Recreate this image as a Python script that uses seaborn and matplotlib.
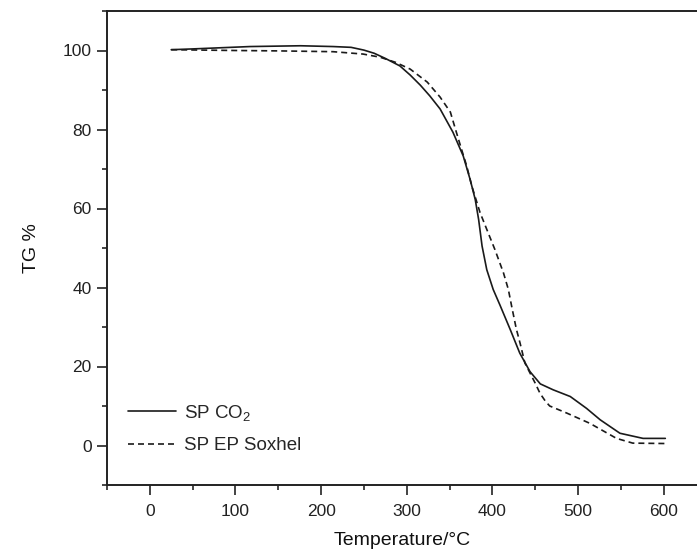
import matplotlib
matplotlib.use('Agg')
import matplotlib.pyplot as plt
from matplotlib.ticker import MultipleLocator
import seaborn as sns
import pandas as pd

sns.set_style('ticks')
plt.rcParams['font.family'] = ['Liberation Sans', 'DejaVu Sans']
plt.rcParams['mathtext.fontset'] = 'custom'
plt.rcParams['mathtext.rm'] = 'Liberation Sans'
plt.rcParams['mathtext.it'] = 'Liberation Sans'

# TG curves
temp_co2 = [25, 50, 117, 176, 214, 235, 250, 262, 275, 292, 304, 316, 327, 339, 354, 366,
            374, 380, 384, 388, 393.5, 401, 409, 421, 432, 444, 456, 471, 491, 510, 526,
            549, 576, 602]
tg_co2 = [100.2, 100.4, 101, 101.2, 101, 100.8, 100.1, 99.3, 98.0, 96.1, 93.8, 91.2, 88.5, 85.2,
          79.3, 73.3, 67.4, 62.3, 57.2, 50.5, 44.5, 39.5, 35.5, 29.3, 23.4, 18.7, 15.6, 14.1,
          12.4, 9.4, 6.5, 3.1, 1.8, 1.8]

temp_sox = [25, 100, 150, 214, 249, 269, 287, 304, 324, 339, 351, 358, 364, 370, 376, 385.6,
            395, 403, 413, 418.7, 422.6, 428, 432.4, 438, 446, 450, 455.7, 462, 467, 487,
            514, 545, 564, 602]
tg_sox = [100.2, 100, 99.9, 99.7, 99.1, 98.3, 97, 95.3, 92, 88.2, 84.4, 79.3, 75, 70.8, 65.7, 59,
          53.9, 49.6, 43.7, 39.5, 35.2, 29.5, 25.9, 20.9, 17.5, 15.8, 13.2, 11.2, 10, 8.2,
          5.6, 1.8, 0.6, 0.5]

co2 = pd.DataFrame({'temp': temp_co2, 'tg': tg_co2})
sox = pd.DataFrame({'temp': temp_sox, 'tg': tg_sox})

fig = plt.figure(figsize=(6.97, 5.55), dpi=100)
ax = fig.add_axes([107 / 697, 70 / 555, 1 - 107 / 697, 474 / 555])

sns.lineplot(x='temp', y='tg', data=co2, color='#1a1a1a', linewidth=1.2,
             label=r'SP CO$_2$', ax=ax)
sns.lineplot(x='temp', y='tg', data=sox, color='#1a1a1a', linewidth=1.2,
             label='SP EP Soxhel', ax=ax)
ax.lines[1].set_dashes((3.6, 2.4))

ax.set_xlim(-50, 639)
ax.set_ylim(-10, 110)
ax.xaxis.set_major_locator(MultipleLocator(100))
ax.xaxis.set_minor_locator(MultipleLocator(50))
ax.yaxis.set_major_locator(MultipleLocator(20))
ax.yaxis.set_minor_locator(MultipleLocator(10))
ax.tick_params(which='major', direction='out', length=7, width=1.2, labelsize=12.5,
               colors='#222222', pad=4)
ax.tick_params(which='minor', direction='out', length=3.5, width=1.2)
ax.tick_params(axis='x', which='major', pad=7)

for side in ['left', 'bottom', 'top']:
    ax.spines[side].set_linewidth(1.4)
    ax.spines[side].set_color('#222222')
ax.spines['right'].set_visible(False)

ax.set_xlabel('Temperature/°C', fontsize=14, color='#111111', labelpad=9)
ax.set_ylabel('TG %', fontsize=14, color='#111111', labelpad=16)

leg = ax.legend(loc='lower left', bbox_to_anchor=(0.035, 0.065), frameon=False,
                fontsize=13.5, handlelength=2.6, handletextpad=0.4,
                labelspacing=0.75, borderpad=0, borderaxespad=0)
leg.get_lines()[1].set_dashes((3.6, 2.4))

fig.savefig('out.png', dpi=100)
